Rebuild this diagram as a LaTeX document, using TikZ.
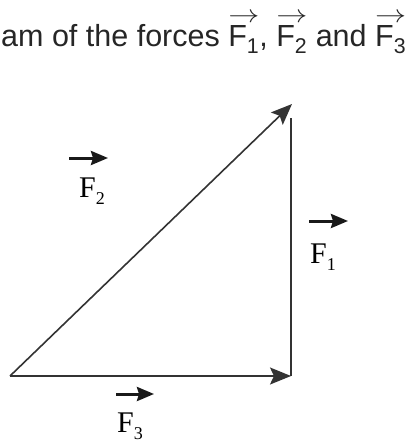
\documentclass[tikz,border=0pt]{standalone}
\usepackage{fontspec}
\setmainfont{Liberation Serif}
\newfontfamily\titlefont{Liberation Sans}
\usetikzlibrary{arrows.meta}
\newcommand\titleF[1]{\rlap{\raisebox{24.5pt}{\scalebox{1.25}[1]{$\rightarrow$}}}F\textsubscript{#1}}
\newcommand\lblF[1]{F\raisebox{-7pt}{\fontsize{18}{18}\selectfont #1}}
\begin{document}
\begin{tikzpicture}[x=1pt,y=-1pt,
  side/.style={draw=black!80, line width=1.6pt},
  headtip/.style={-{Stealth[length=21pt,width=17pt,inset=4pt]}},
  lbl/.style={inner sep=0pt, anchor=base west, font=\fontsize{30}{32}\selectfont},
  lblarrow/.style={draw=black!90, line width=3pt, -{Stealth[length=17pt,width=14pt,inset=2pt]}}]
\clip (0,0) rectangle (404,441);
\fill[white] (0,0) rectangle (404,441);
% title
\node[inner sep=0pt, anchor=base west, text=black!85,
      font=\titlefont\fontsize{30.5}{36}\selectfont] (title) at (1,47)
  {am of the forces \titleF{1}, \titleF{2} and \titleF{3}};
% triangle
\coordinate (A) at (10,376);
\coordinate (B) at (291,376);
\coordinate (C) at (292,104);
\draw[side] (B) -- (291,118);
\draw[side, headtip] (A) -- (B);
\draw[side, headtip] (A) -- (C);
% labels
\node[lbl] (f2) at (79,197) {\lblF{2}};
\node[lbl] (f1) at (310,263) {\lblF{1}};
\node[lbl] (f3) at (117,432) {\lblF{3}};
\coordinate (a2s) at (69,158);  \coordinate (a2e) at (108,158);
\coordinate (a1s) at (309,221); \coordinate (a1e) at (348,221);
\coordinate (a3s) at (116,394); \coordinate (a3e) at (154,394);
\draw[lblarrow] (a2s) -- (a2e);
\draw[lblarrow] (a1s) -- (a1e);
\draw[lblarrow] (a3s) -- (a3e);
\end{tikzpicture}
\end{document}
